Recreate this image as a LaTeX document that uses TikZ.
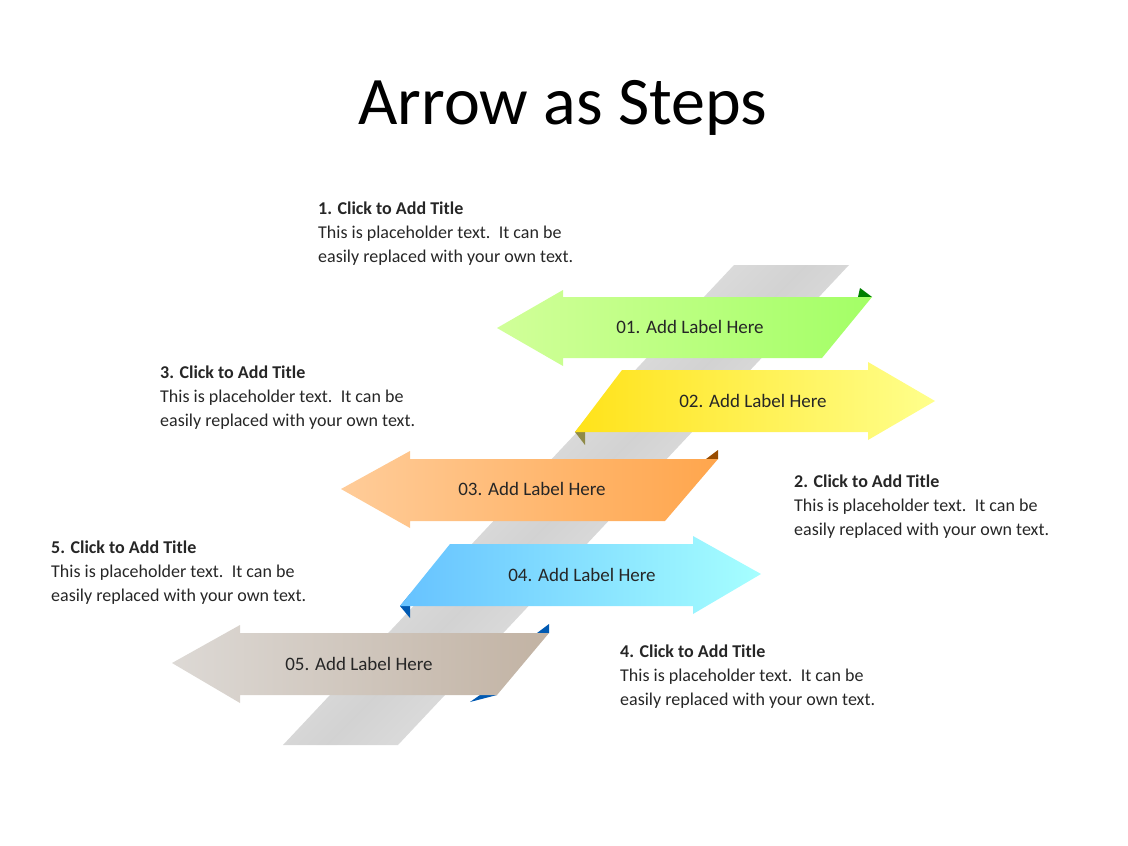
\documentclass[tikz,border=0pt]{standalone}
\usepackage{fontspec}
\setmainfont{Carlito}
\begin{document}
\begin{tikzpicture}[x=1pt,y=-1pt,
  lbl/.style={font=\fontsize{19}{22}\selectfont,text=black!85},
  ttl/.style={anchor=north west,align=left,font=\fontsize{18}{24}\selectfont,text=black!85,inner sep=0}]
\useasboundingbox (0,0) rectangle (1128,846);
% grey strip
\shade[top color=gray!5,bottom color=gray!5,middle color=gray!35,shading angle=45] (734,265) -- (849,265) -- (398,745) -- (283,745) -- cycle;
% arrow 1 green (left)
\fill[green!50!black] (860,288) -- (872,297) -- (858,297) -- cycle;
\shade[left color=green!45!yellow!40,right color=green!60!yellow!60] (497,328) -- (563,290) -- (563,297) -- (872,297) -- (822,358) -- (563,358) -- (563,366) -- cycle;
\node[lbl] (a1) at (690,327) {01. Add Label Here};
% arrow 2 yellow (right)
\fill[yellow!50!black] (575,432) -- (585,420) -- (585,445) -- cycle;
\shade[left color=yellow!75!orange!90,right color=yellow!45] (622,370) -- (868,370) -- (868,362) -- (935,401) -- (868,440) -- (868,432) -- (575,432) -- cycle;
\node[lbl] (a2) at (753,401) {02. Add Label Here};
% arrow 3 orange (left)
\fill[orange!60!black] (706,459) -- (718,450) -- (718,459) -- cycle;
\shade[left color=orange!40,right color=orange!70] (341,489) -- (410,451) -- (410,459) -- (718,459) -- (665,521) -- (410,521) -- (410,528) -- cycle;
\node[lbl] (a3) at (532,489) {03. Add Label Here};
% arrow 4 blue (right)
\fill[blue!50!cyan!70!black] (400,606) -- (410,594) -- (410,618) -- cycle;
\shade[left color=cyan!60!blue!60,right color=cyan!35] (450,544) -- (693,544) -- (693,536) -- (761,574) -- (693,614) -- (693,606) -- (400,606) -- cycle;
\node[lbl] (a4) at (582,575) {04. Add Label Here};
% arrow 5 khaki (left)
\fill[blue!50!cyan!70!black] (537,633) -- (549,624) -- (549,633) -- cycle;
\fill[blue!50!cyan!70!black] (470,702) -- (497,695) -- (480,695) -- cycle;
\shade[left color=brown!20!gray!30,right color=brown!40!gray!60] (172,663) -- (240,625) -- (240,633) -- (549,633) -- (497,695) -- (240,695) -- (240,703) -- cycle;
\node[lbl] (a5) at (359,664) {05. Add Label Here};
% title
\node[font=\fontsize{68}{70}\selectfont] (t) at (563,108) {Arrow as Steps};
% text blocks
\node[ttl] (b1) at (318,202) {\textbf{1. Click to Add Title}\\This is placeholder text.\, It can be\\easily replaced with your own text.};
\node[ttl] (b3) at (160,366) {\textbf{3. Click to Add Title}\\This is placeholder text.\, It can be\\easily replaced with your own text.};
\node[ttl] (b2) at (794,475) {\textbf{2. Click to Add Title}\\This is placeholder text.\, It can be\\easily replaced with your own text.};
\node[ttl] (b5) at (51,541) {\textbf{5. Click to Add Title}\\This is placeholder text.\, It can be\\easily replaced with your own text.};
\node[ttl] (b4) at (620,645) {\textbf{4. Click to Add Title}\\This is placeholder text.\, It can be\\easily replaced with your own text.};
\end{tikzpicture}
\end{document}
